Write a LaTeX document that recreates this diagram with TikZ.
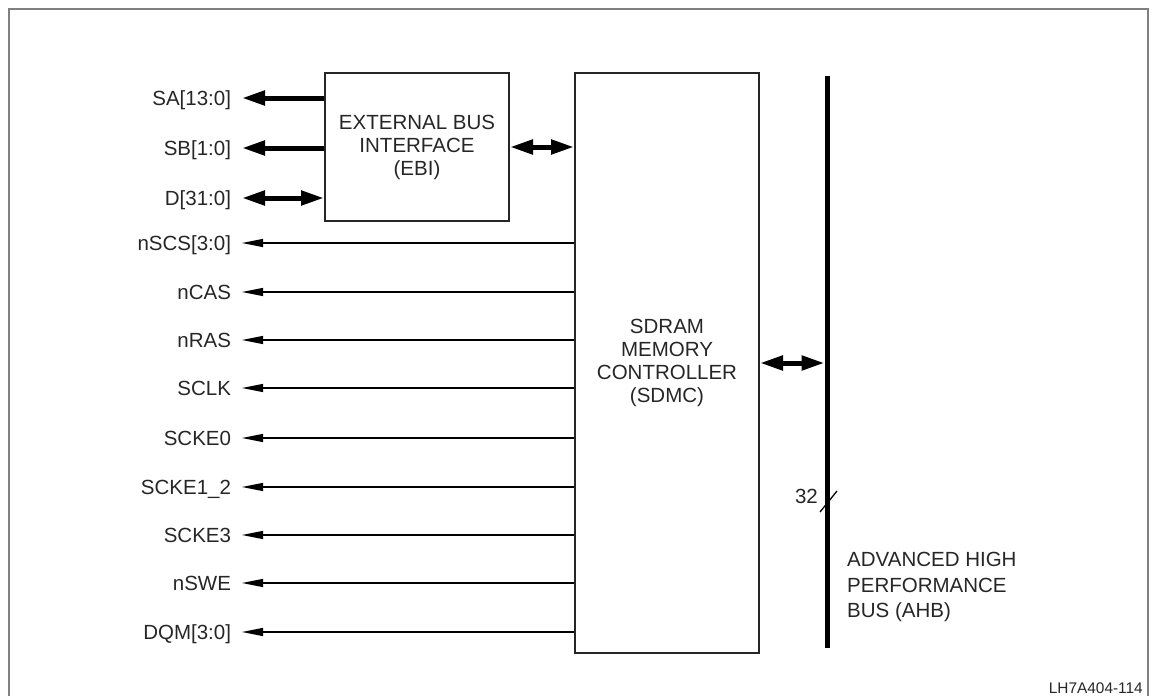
\documentclass[tikz,border=0pt]{standalone}
\usepackage{fontspec}
\setmainfont{Liberation Sans}
\usetikzlibrary{arrows.meta,positioning}
\definecolor{framegray}{gray}{0.5}
\definecolor{inkgray}{gray}{0.15}

\begin{document}
\begin{tikzpicture}[
    x=1pt, y=-1pt,
    font=\fontsize{20.5}{23}\selectfont,
    text=inkgray,
    block/.style={
        rectangle,
        draw=inkgray,
        line width=2pt,
        align=center,
        inner sep=0pt
    },
    pin/.style={
        anchor=east,
        inner xsep=0pt,
        inner ysep=0pt,
        outer xsep=11pt,
        text height=18.5pt,
        text depth=4.1pt
    },
    sig/.style={
        -{Triangle[length=21pt,width=8pt]},
        line width=1.3pt
    },
    wide/.style={
        -{Triangle[length=23pt,width=14pt]},
        line width=5pt
    },
    widetwo/.style={
        {Triangle[length=23pt,width=14pt]}-{Triangle[length=23pt,width=14pt]},
        line width=5pt
    }
]
\useasboundingbox (0,0) rectangle (1152,696);

% frame
\draw[framegray, line width=1.5pt] (9,700) -- (9,9) -- (1148,9) -- (1148,700);

\node[block, minimum width=184pt, minimum height=580pt] (sdmc) at (667,363)
{SDRAM\\MEMORY\\CONTROLLER\\(SDMC)};

\node[block, minimum width=184pt, minimum height=148pt] (ebi) at (417,147)
{EXTERNAL BUS\\INTERFACE\\(EBI)};

% AHB bus
\coordinate (ahbtop) at (827,76);
\coordinate (ahbbot) at (827,648);
\draw[line width=5pt] (ahbtop) -- (ahbbot);
\coordinate (slasha) at (820,512);
\coordinate (slashb) at (837,491);
\draw[line width=1.3pt] (slasha) -- (slashb);
\node[anchor=east, inner sep=0pt] (buswidth) at (818,496) {32};
\node[anchor=north west, align=left, inner sep=0pt,
      font=\fontsize{20.5}{25.5}\selectfont] (ahb) at (847,552)
{ADVANCED HIGH\\PERFORMANCE\\BUS (AHB)};

\node[anchor=south east, inner sep=0pt, font=\fontsize{15.4}{18}\selectfont] (tag)
    at (1143,694) {LH7A404-114};

% EBI pins
\node[pin] (sa) at (242,98) {SA[13:0]};
\node[pin] (sb) at (242,148) {SB[1:0]};
\node[pin] (dbus) at (242,198) {D[31:0]};

\draw[wide] (ebi.west |- sa.east) -- (sa.east);
\draw[wide] (ebi.west |- sb.east) -- (sb.east);
\draw[widetwo] (dbus.east) -- (ebi.west |- dbus.east);
\draw[widetwo] (ebi.east) -- (ebi.east -| sdmc.west);
\draw[widetwo, shorten >=2.5pt] (sdmc.east) -- (sdmc.east -| ahbtop);

% SDMC pins
\foreach \nm/\txt/\yy in {nscs/nSCS[3:0]/243, ncas/nCAS/292, nras/nRAS/340,
    sclk/SCLK/388, sckez/SCKE0/438, sckeot/SCKE1\_2/487, sckethree/SCKE3/535,
    nswe/nSWE/583, dqm/DQM[3:0]/632}
{
    \node[pin] (\nm) at (242,\yy) {\txt};
    \draw[sig] (sdmc.west |- \nm.east) -- (\nm.east);
}

\end{tikzpicture}
\end{document}
